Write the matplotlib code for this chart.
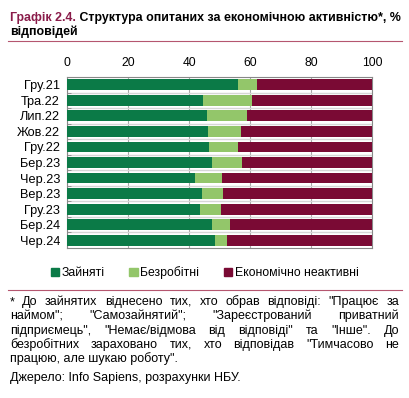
import matplotlib
matplotlib.use("Agg")
import matplotlib.pyplot as plt
from matplotlib.patches import Patch
from matplotlib.lines import Line2D

plt.rcParams['font.family'] = ['Liberation Sans', 'DejaVu Sans']

# data, % of respondents
periods = ['Гру.21', 'Тра.22', 'Лип.22', 'Жов.22', 'Гру.22', 'Бер.23',
           'Чер.23', 'Вер.23', 'Гру.23', 'Бер.24', 'Чер.24']
employed = [56.2, 44.7, 45.9, 46.2, 46.6, 47.4, 42.0, 44.4, 43.7, 47.6, 48.6]
unemployed = [6.0, 16.1, 13.0, 11.0, 9.5, 10.1, 8.9, 6.8, 6.8, 5.9, 3.8]
inactive = [100 - e - u for e, u in zip(employed, unemployed)]
series_names = ['Зайняті', 'Безробітні', 'Економічно неактивні']
colors = ['#0b7a47', '#93c66a', '#7a0a34']
xticks = [0, 20, 40, 60, 80, 100]

W, H = 409, 398
fig = plt.figure(figsize=(W / 100, H / 100), dpi=100)
fig.canvas.draw()
r = fig.canvas.get_renderer()

# title
maroon = '#8a1c4a'
tfs = 8.9
t1 = fig.text(10 / W, 1 - 21 / H, 'Графік 2.4.', color=maroon, fontsize=tfs,
              fontweight='bold', va='baseline', ha='left')
w1 = t1.get_window_extent(r).width
fig.text((10 + w1) / W, 1 - 21 / H, ' Структура опитаних за економічною активністю*, %',
         color='black', fontsize=tfs, fontweight='bold', va='baseline', ha='left')
fig.text(10 / W, 1 - 35 / H, 'відповідей', color='black', fontsize=tfs,
         fontweight='bold', va='baseline', ha='left')
fig.add_artist(Line2D([8 / W, 402 / W], [1 - 41 / H, 1 - 41 / H], color='#b5566f', lw=0.8))
fig.add_artist(Line2D([8 / W, 402 / W], [1 - 290 / H, 1 - 290 / H], color='#b5566f', lw=0.8))

# chart
ax = fig.add_axes([67 / W, 1 - 248 / H, 305 / W, 171 / H])
y = list(range(len(periods)))
left = [0] * len(periods)
for vals, name, c in zip([employed, unemployed, inactive], series_names, colors):
    ax.barh(y, vals, left=left, height=0.7, color=c, label=name, zorder=3)
    left = [a + b for a, b in zip(left, vals)]

ax.set_xlim(0, 100)
ax.set_ylim(len(periods) - 0.5, -0.5)
ax.set_yticks(y)
ax.set_yticklabels(periods, fontsize=9.2)
ax.set_yticks([i + 0.5 for i in range(len(periods) - 1)], minor=True)
ax.set_xticks(xticks)
ax.xaxis.tick_top()
ax.tick_params(axis='x', length=0, labelsize=8.7, pad=6)
ax.tick_params(axis='y', which='major', length=0, pad=5)
ax.tick_params(axis='y', which='minor', length=3, direction='in', color='#888888')
ax.grid(axis='x', color='#a6a6a6', lw=0.8, zorder=0)
ax.grid(axis='y', which='minor', color='#d6d6d6', lw=1.0, zorder=0)
for s in ax.spines.values():
    s.set_color('#888888')
    s.set_linewidth(0.8)
ax.set_axisbelow(True)

handles = [Patch(color=c) for c in colors]
fig.legend(handles, series_names, loc='center', bbox_to_anchor=(0.5, 1 - 273 / H),
           ncol=3, frameon=False, fontsize=8.8, handlelength=0.7, handleheight=0.7,
           handletextpad=0.2, columnspacing=2.0)

# footnote with justified lines
note_lines = [
    '* До зайнятих віднесено тих, хто обрав відповіді: "Працює за',
    'наймом"; "Самозайнятий"; "Зареєстрований приватний',
    'підприємець", "Немає/відмова від відповіді" та "Інше". До',
    'безробітних зараховано тих, хто відповідав "Тимчасово не',
    'працюю, але шукаю роботу".',
]
x0, x1 = 10, 399
fs = 9.0
for i, line in enumerate(note_lines):
    yy = 1 - (305 + 14.3 * i) / H
    if i == len(note_lines) - 1:
        fig.text(x0 / W, yy, line, fontsize=fs, va='baseline', ha='left')
        continue
    words = line.split()
    texts = [fig.text(0, yy, wd, fontsize=fs, va='baseline', ha='left') for wd in words]
    widths = [t.get_window_extent(r).width for t in texts]
    gap = (x1 - x0 - sum(widths)) / (len(words) - 1)
    x = x0
    for t, wd in zip(texts, widths):
        t.set_x(x / W)
        x += wd + gap

fig.text(x0 / W, 1 - 381 / H, 'Джерело: Info Sapiens, розрахунки НБУ.', fontsize=fs,
         va='baseline', ha='left')

fig.savefig('out.png', dpi=100, facecolor='white')
